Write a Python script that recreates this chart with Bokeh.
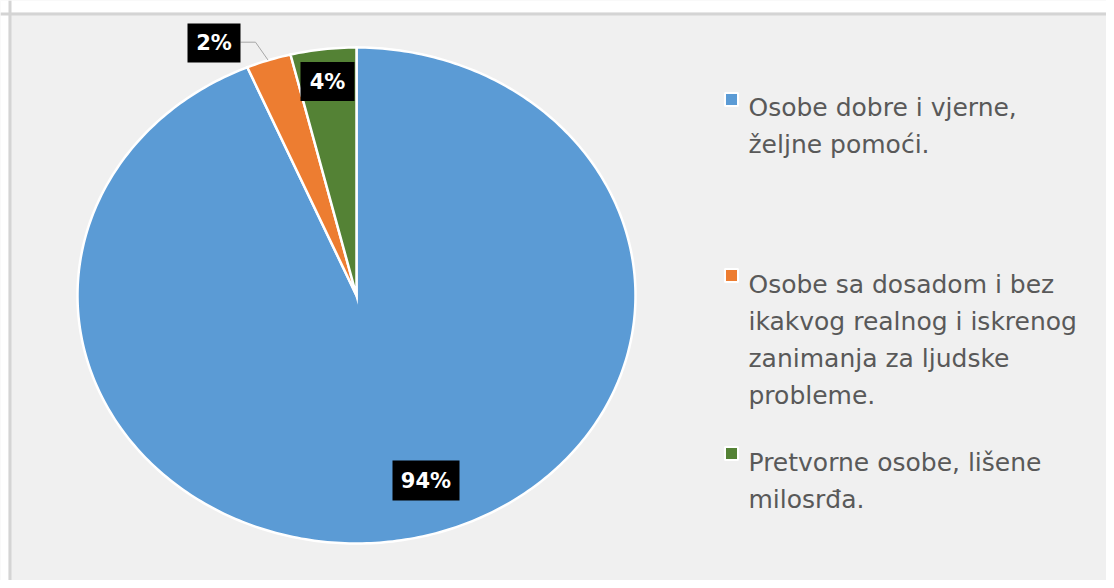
import numpy as np
from bokeh.plotting import figure
from bokeh.models import Range1d, Span
from bokeh.core.properties import value
from bokeh.embed import file_html
from bokeh.resources import INLINE

# ---- data ----
categories = [
    "Osobe dobre i vjerne,\nželjne pomoći.",
    "Osobe sa dosadom i bez\nikakvog realnog i iskrenog\nzanimanja za ljudske\nprobleme.",
    "Pretvorne osobe, lišene\nmilosrđa.",
]
shares = [93.6, 2.6, 3.8]
labels = ["94%", "2%", "4%"]
colors = ["#5b9bd5", "#ed7d31", "#548235"]

# ---- layout (screen pixel coordinates) ----
W, H = 1106, 580
cx, cy, rx, ry = 356, 295, 279, 248

p = figure(width=W, height=H, output_backend="svg", toolbar_location=None,
           x_range=Range1d(0, W), y_range=Range1d(H, 0),
           min_border_left=0, min_border_right=0, min_border_bottom=0, min_border_top=0)
p.axis.visible = False
p.grid.visible = False
p.outline_line_color = None
p.background_fill_color = "#f0f0f0"
p.border_fill_color = "white"

# white strip above/left of chart area, then gray border
p.quad(left=[0, 0], right=[W, 8], top=[0, 0], bottom=[12, H], fill_color="white", line_color=None)
p.add_layout(Span(location=9.5, dimension="height", line_color="#d4d4d4", line_width=3))
p.add_layout(Span(location=13.5, dimension="width", line_color="#d4d4d4", line_width=3))

# pie slices (clockwise from 12 o'clock)
total = sum(shares)
cum = np.cumsum([0] + shares) / total
xs, ys = [], []
for i in range(len(shares)):
    t = np.linspace(cum[i], cum[i + 1], max(3, int(400 * (cum[i + 1] - cum[i])) + 2)) * 2 * np.pi
    px = np.concatenate([[cx], cx + rx * np.sin(t)])
    py = np.concatenate([[cy], cy - ry * np.cos(t)])
    xs.append(list(px)); ys.append(list(py))
p.patches(xs=xs, ys=ys, fill_color=colors, line_color="white", line_width=2.5, line_join="miter")

# data labels
lab_x = [425.5, 213.5, 327]
lab_y = [480, 42.5, 81]
lab_w = [67, 53, 54]
lab_h = [40, 39, 39]
p.line([240, 255, 267.5], [41.7, 41.7, 59.5], line_color="#a6a6a6", line_width=1)
p.rect(x=lab_x, y=lab_y, width=lab_w, height=lab_h, fill_color="black", line_color=None)
p.text(x=lab_x, y=lab_y, text=labels, text_align="center", text_baseline="middle",
       text_color="white", text_font=value("DejaVu Sans"), text_font_style="bold",
       text_font_size="21px")

# legend
leg_marker_y = [99, 275, 453]
first_base = [107, 284, 461.5]
line_step = 37
tx, ty, tt = [], [], []
for i, lab in enumerate(categories):
    for j, line in enumerate(lab.split("\n")):
        tx.append(748); ty.append(first_base[i] + j * line_step); tt.append(line)
p.rect(x=[731] * 3, y=leg_marker_y, width=13, height=13, fill_color=colors,
       line_color="white", line_width=2)
p.text(x=tx, y=ty, text=tt, text_align="left", text_baseline="alphabetic",
       text_color="#595959", text_font=value("DejaVu Sans"), text_font_size="25px")

open("out.html", "w").write(file_html(p, INLINE))
